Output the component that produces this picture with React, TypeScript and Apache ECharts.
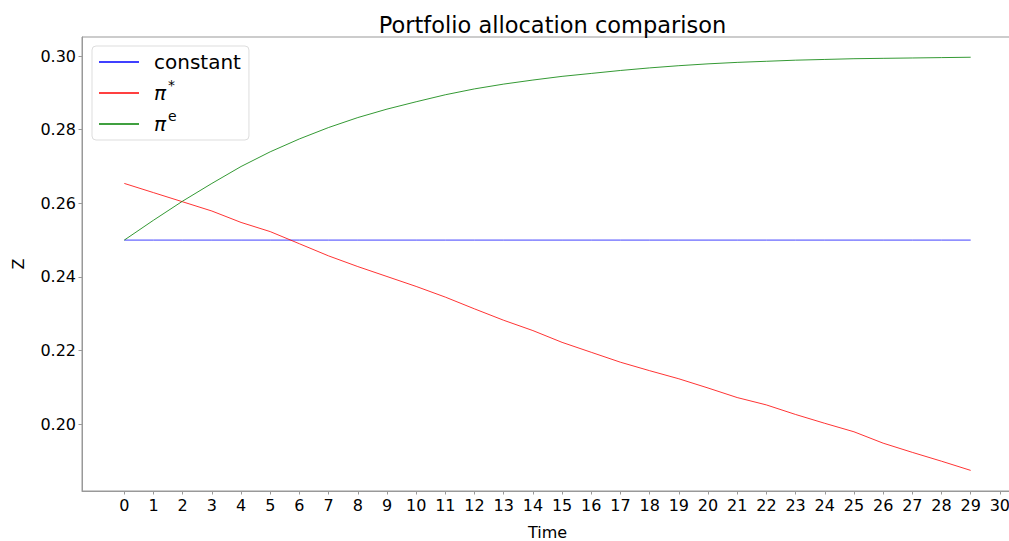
import React, { useEffect, useRef } from "react";
import * as echarts from "echarts";

const times = [0,1,2,3,4,5,6,7,8,9,10,11,12,13,14,15,16,17,18,19,20,21,22,23,24,25,26,27,28,29];
const constantValues = [0.25,0.25,0.25,0.25,0.25,0.25,0.25,0.25,0.25,0.25,0.25,0.25,0.25,0.25,0.25,0.25,0.25,0.25,0.25,0.25,0.25,0.25,0.25,0.25,0.25,0.25,0.25,0.25,0.25,0.25];
const piStarValues = [0.2654,0.2629,0.2604,0.2579,0.2548,0.2523,0.2490,0.2457,0.2428,0.2401,0.2374,0.2345,0.2313,0.2282,0.2254,0.2222,0.2195,0.2168,0.2145,0.2123,0.2098,0.2072,0.2052,0.2026,0.2002,0.1979,0.1948,0.1923,0.1899,0.1874];
const piEValues = [0.2500,0.2554,0.2606,0.2654,0.2700,0.2740,0.2775,0.2806,0.2833,0.2856,0.2876,0.2895,0.2911,0.2924,0.2935,0.2945,0.2953,0.2961,0.2968,0.2974,0.2979,0.2983,0.2986,0.2989,0.2991,0.2993,0.2994,0.2995,0.2996,0.2997];
const xTicks = [0,1,2,3,4,5,6,7,8,9,10,11,12,13,14,15,16,17,18,19,20,21,22,23,24,25,26,27,28,29,30];
const yTicks = [0.20,0.22,0.24,0.26,0.28,0.30];

const FONT = "DejaVu Sans";
const AXIS_COLOR = "#999999";

export default function App() {
  const ref = useRef<HTMLDivElement>(null);
  useEffect(() => {
    if (!ref.current) return;
    const chart = echarts.init(ref.current, null, { renderer: "svg" });
    const pair = (ys: number[]) => times.map((t, i) => [t, ys[i]]);
    chart.setOption({
      animation: false,
      backgroundColor: "#ffffff",
      textStyle: { fontFamily: FONT },
      title: {
        text: "Portfolio allocation comparison",
        left: 547.5,
        textAlign: "center",
        top: 8,
        textStyle: { fontFamily: FONT, fontSize: 22.5, fontWeight: "normal", color: "#000" },
      },
      grid: { left: 82, top: 37, width: 931, height: 454, show: true, borderColor: AXIS_COLOR, borderWidth: 1, outerBoundsMode: "none", containLabel: false },
      legend: {
        left: 92,
        top: 46,
        orient: "vertical",
        padding: [6, 8, 6, 7],
        itemWidth: 40,
        itemHeight: 1.5,
        itemGap: 6,
        icon: "rect",
        backgroundColor: "#ffffff",
        borderColor: "#dddddd",
        borderWidth: 1,
        borderRadius: 4,
        data: ["constant", "pistar", "pie"],
        formatter: (name: string) => {
          if (name === "constant") return "{n|constant}";
          if (name === "pistar") return "{p|π}{s|*}";
          return "{p|π}{s|e}";
        },
        textStyle: {
          fontFamily: FONT,
          fontSize: 20,
          color: "#000",
          padding: [0, 0, 0, 10],
          rich: {
            n: { fontFamily: FONT, fontSize: 20, color: "#000", height: 20, lineHeight: 20 },
            p: { fontFamily: FONT, fontSize: 20, fontStyle: "italic", color: "#000", height: 20, lineHeight: 20, verticalAlign: "bottom" },
            s: { fontFamily: FONT, fontSize: 14, color: "#000", verticalAlign: "top", lineHeight: 4, height: 4, padding: [0, 0, 0, 2] },
          },
        },
      },
      xAxis: {
        type: "value",
        min: -1.45,
        max: 30.45,
        name: "Time",
        nameLocation: "middle",
        nameGap: 33,
        nameTextStyle: { fontFamily: FONT, fontSize: 16, color: "#000" },
        axisLine: { show: true, onZero: false, lineStyle: { color: AXIS_COLOR, width: 1 } },
        axisTick: { show: true, length: 3.5, lineStyle: { color: AXIS_COLOR }, customValues: xTicks },
        axisLabel: { fontFamily: FONT, fontSize: 16, color: "#000", margin: 6, customValues: xTicks, formatter: (v: number) => String(v) },
        splitLine: { show: false },
      },
      yAxis: {
        type: "value",
        min: 0.1818,
        max: 0.3052,
        name: "Z",
        nameLocation: "middle",
        nameRotate: 90,
        nameGap: 56,
        nameTextStyle: { fontFamily: FONT, fontSize: 16, color: "#000" },
        axisLine: { show: true, onZero: false, lineStyle: { color: AXIS_COLOR, width: 1 } },
        axisTick: { show: true, length: 3.5, lineStyle: { color: AXIS_COLOR }, customValues: yTicks },
        axisLabel: { fontFamily: FONT, fontSize: 16, color: "#000", margin: 6, customValues: yTicks, formatter: (v: number) => v.toFixed(2) },
        splitLine: { show: false },
      },
      series: [
        { name: "constant", type: "line", data: pair(constantValues), showSymbol: false, symbol: "none", color: "#0000ff", lineStyle: { width: 1, color: "#0000ff", opacity: 0.75 } },
        { name: "pistar", type: "line", data: pair(piStarValues), showSymbol: false, symbol: "none", color: "#ff0000", lineStyle: { width: 1, color: "#ff0000", opacity: 0.8 } },
        { name: "pie", type: "line", data: pair(piEValues), showSymbol: false, symbol: "none", color: "#008000", lineStyle: { width: 1, color: "#008000", opacity: 0.8 } },
      ],
    });
    return () => chart.dispose();
  }, []);
  return <div ref={ref} style={{ position: "fixed", left: 0, top: 0, width: 1009, height: 541 }} />;
}
